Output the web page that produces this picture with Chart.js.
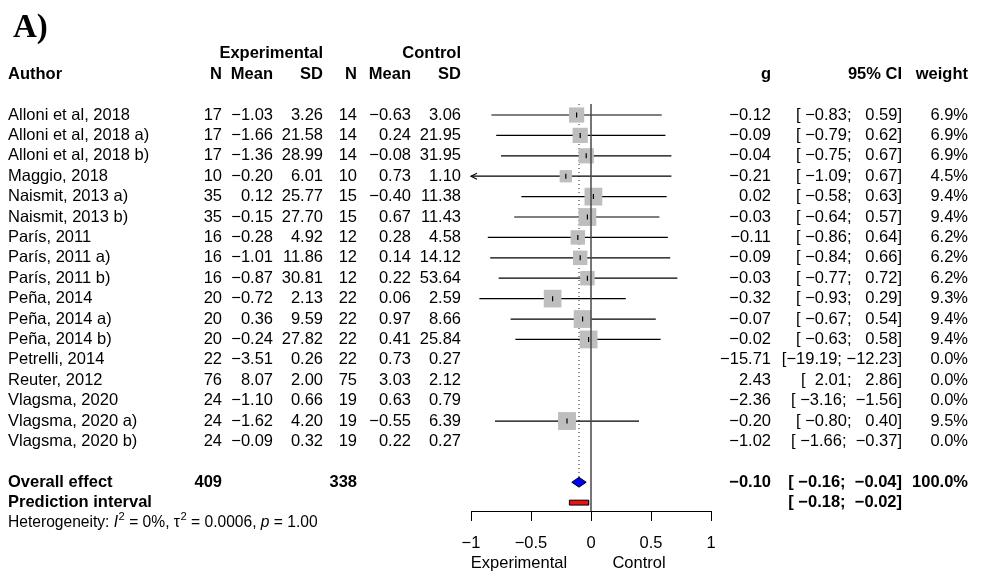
<!DOCTYPE html>
<html>
<head>
<meta charset="utf-8">
<script src="https://cdn.jsdelivr.net/npm/chart.js@4.4.1/dist/chart.umd.min.js"></script>
<style>
  html, body { margin: 0; padding: 0; background: #fff; }
  canvas { display: block; }
</style>
</head>
<body>
<canvas id="forest" width="983" height="575"></canvas>
<script>
// ---- study data ----
const authors = [
  'Alloni et al, 2018', 'Alloni et al, 2018 a)', 'Alloni et al, 2018 b)', 'Maggio, 2018',
  'Naismit, 2013 a)', 'Naismit, 2013 b)', 'París, 2011', 'París, 2011 a)', 'París, 2011 b)',
  'Peña, 2014', 'Peña, 2014 a)', 'Peña, 2014 b)', 'Petrelli, 2014', 'Reuter, 2012',
  'Vlagsma, 2020', 'Vlagsma, 2020 a)', 'Vlagsma, 2020 b)'
];
const nExp    = [17, 17, 17, 10, 35, 35, 16, 16, 16, 20, 20, 20, 22, 76, 24, 24, 24];
const meanExp = [-1.03, -1.66, -1.36, -0.20, 0.12, -0.15, -0.28, -1.01, -0.87, -0.72, 0.36, -0.24, -3.51, 8.07, -1.10, -1.62, -0.09];
const sdExp   = [3.26, 21.58, 28.99, 6.01, 25.77, 27.70, 4.92, 11.86, 30.81, 2.13, 9.59, 27.82, 0.26, 2.00, 0.66, 4.20, 0.32];
const nCtl    = [14, 14, 14, 10, 15, 15, 12, 12, 12, 22, 22, 22, 22, 75, 19, 19, 19];
const meanCtl = [-0.63, 0.24, -0.08, 0.73, -0.40, 0.67, 0.28, 0.14, 0.22, 0.06, 0.97, 0.41, 0.73, 3.03, 0.63, -0.55, 0.22];
const sdCtl   = [3.06, 21.95, 31.95, 1.10, 11.38, 11.43, 4.58, 14.12, 53.64, 2.59, 8.66, 25.84, 0.27, 2.12, 0.79, 6.39, 0.27];
const hedgesG = [-0.12, -0.09, -0.04, -0.21, 0.02, -0.03, -0.11, -0.09, -0.03, -0.32, -0.07, -0.02, -15.71, 2.43, -2.36, -0.20, -1.02];
const ciLow   = [-0.83, -0.79, -0.75, -1.09, -0.58, -0.64, -0.86, -0.84, -0.77, -0.93, -0.67, -0.63, -19.19, 2.01, -3.16, -0.80, -1.66];
const ciHigh  = [0.59, 0.62, 0.67, 0.67, 0.63, 0.57, 0.64, 0.66, 0.72, 0.29, 0.54, 0.58, -12.23, 2.86, -1.56, 0.40, -0.37];
const weight  = [6.9, 6.9, 6.9, 4.5, 9.4, 9.4, 6.2, 6.2, 6.2, 9.3, 9.4, 9.4, 0.0, 0.0, 0.0, 9.5, 0.0];

// ---- pooled results ----
const totalExp = 409;
const totalCtl = 338;
const pooledG = -0.10;
const pooledCI = [-0.16, -0.04];
const pooledWeight = 100.0;
const predInterval = [-0.18, -0.02];
const hetI2 = '0%';
const hetTau2 = '0.0006';
const hetP = '1.00';

// ---- axis ----
const xTicks = [-1, -0.5, 0, 0.5, 1];
const xTickLabels = ['\u22121', '\u22120.5', '0', '0.5', '1'];
const refValue = 0;

// ---- layout ----
const FONT = "'Liberation Sans', Arial, Helvetica, sans-serif";
const FS = 16.5;
const rowOverall = authors.length + 1;
const rowPred = rowOverall + 1;
const rowHet = rowPred + 1;
const yTop = -0.54, yBottom = 19.41;
const diamondHalf = 0.24;
const predHalf = 0.12;
const col = { author: 8, nE: 222, meanE: 273, sdE: 323, nC: 357, meanC: 411, sdC: 461, g: 771, ci: 902, w: 968 };

const minus = s => s.replace(/-/g, '\u2212');
const fmt2 = v => minus(v.toFixed(2));
const pad = (s, n) => ' '.repeat(Math.max(0, n - s.length)) + s;
const fmtCI = (lo, hi) => '[' + pad(fmt2(lo), 6) + '; ' + pad(fmt2(hi), 6) + ']';

// only studies that carry weight are drawn in the plot
const shown = authors.map((_, i) => i).filter(i => weight[i] > 0);

const ciLines = shown.map(i => ({
  type: 'line',
  data: [{ x: ciLow[i], y: i }, { x: ciHigh[i], y: i }],
  borderColor: '#000',
  borderWidth: 1.2,
  pointRadius: 0,
  order: 3,
}));

const squares = {
  type: 'line',
  showLine: false,
  data: shown.map(i => ({ x: hedgesG[i], y: i, w: weight[i] })),
  pointStyle: 'rect',
  pointRadius: ctx => 4.1 * Math.sqrt(ctx.raw ? ctx.raw.w : 0),
  pointBackgroundColor: '#bebebe',
  pointBorderWidth: 0,
  order: 2,
};

const estTicks = {
  type: 'line',
  showLine: false,
  data: shown.map(i => ({ x: hedgesG[i], y: i })),
  pointStyle: 'line',
  rotation: 90,
  pointRadius: 2.5,
  pointBorderColor: '#000',
  pointBorderWidth: 1.2,
  order: 0,
};

const refLine = {
  type: 'line',
  data: [{ x: refValue, y: yTop }, { x: refValue, y: yBottom }],
  borderColor: '#4a4a4a',
  borderWidth: 1.5,
  pointRadius: 0,
  order: 1,
};

const pooledLine = {
  type: 'line',
  data: [{ x: pooledG, y: yTop }, { x: pooledG, y: rowOverall - diamondHalf }],
  borderColor: '#222',
  borderWidth: 1,
  borderDash: [1, 3],
  pointRadius: 0,
  order: 4,
};

const diamond = {
  type: 'line',
  data: [
    { x: pooledCI[0], y: rowOverall }, { x: pooledG, y: rowOverall - diamondHalf },
    { x: pooledCI[1], y: rowOverall }, { x: pooledG, y: rowOverall + diamondHalf },
    { x: pooledCI[0], y: rowOverall }
  ],
  borderColor: '#000',
  borderWidth: 1,
  backgroundColor: '#0000ff',
  fill: 'shape',
  pointRadius: 0,
  order: 2,
};

const predBar = {
  type: 'line',
  data: [
    { x: predInterval[0], y: rowPred - predHalf }, { x: predInterval[1], y: rowPred - predHalf },
    { x: predInterval[1], y: rowPred + predHalf }, { x: predInterval[0], y: rowPred + predHalf },
    { x: predInterval[0], y: rowPred - predHalf }
  ],
  borderColor: '#000',
  borderWidth: 1,
  backgroundColor: '#ee1111',
  fill: 'shape',
  pointRadius: 0,
  order: 2,
};

// arrow heads for intervals running past the axis limits
const arrowPlugin = {
  id: 'ciArrows',
  afterDatasetsDraw(chart) {
    const { ctx, scales: { x, y } } = chart;
    ctx.save();
    ctx.strokeStyle = '#000';
    ctx.lineWidth = 1.1;
    shown.forEach(i => {
      const py = y.getPixelForValue(i);
      if (ciLow[i] < x.min) {
        const px = x.getPixelForValue(x.min);
        ctx.beginPath();
        ctx.moveTo(px + 6, py - 3);
        ctx.lineTo(px, py);
        ctx.lineTo(px + 6, py + 3);
        ctx.stroke();
      }
      if (ciHigh[i] > x.max) {
        const px = x.getPixelForValue(x.max);
        ctx.beginPath();
        ctx.moveTo(px - 6, py - 3);
        ctx.lineTo(px, py);
        ctx.lineTo(px - 6, py + 3);
        ctx.stroke();
      }
    });
    ctx.restore();
  }
};

// study table to the left and right of the plot
const tablePlugin = {
  id: 'forestTable',
  afterDraw(chart) {
    const { ctx, scales: { x, y } } = chart;
    const ry = r => y.getPixelForValue(r);
    const put = (s, px, py, align, bold) => {
      ctx.font = (bold ? 'bold ' : '') + FS + 'px ' + FONT;
      ctx.textAlign = align;
      ctx.fillText(s, px, py);
    };
    ctx.save();
    ctx.fillStyle = '#000';
    ctx.textBaseline = 'middle';

    // panel tag
    ctx.font = "bold 33px 'Liberation Serif', 'Times New Roman', serif";
    ctx.textAlign = 'left';
    ctx.fillText('A)', 13, 28);

    // headers
    put('Experimental', col.sdE, ry(-3), 'right', true);
    put('Control', col.sdC, ry(-3), 'right', true);
    const h = ry(-2);
    put('Author', col.author, h, 'left', true);
    put('N', col.nE, h, 'right', true);
    put('Mean', col.meanE, h, 'right', true);
    put('SD', col.sdE, h, 'right', true);
    put('N', col.nC, h, 'right', true);
    put('Mean', col.meanC, h, 'right', true);
    put('SD', col.sdC, h, 'right', true);
    put('g', col.g, h, 'right', true);
    put('95% CI', col.ci, h, 'right', true);
    put('weight', col.w, h, 'right', true);

    // study rows
    authors.forEach((a, i) => {
      const py = ry(i);
      put(a, col.author, py, 'left');
      put(String(nExp[i]), col.nE, py, 'right');
      put(fmt2(meanExp[i]), col.meanE, py, 'right');
      put(fmt2(sdExp[i]), col.sdE, py, 'right');
      put(String(nCtl[i]), col.nC, py, 'right');
      put(fmt2(meanCtl[i]), col.meanC, py, 'right');
      put(fmt2(sdCtl[i]), col.sdC, py, 'right');
      put(fmt2(hedgesG[i]), col.g, py, 'right');
      put(fmtCI(ciLow[i], ciHigh[i]), col.ci, py, 'right');
      put(weight[i].toFixed(1) + '%', col.w, py, 'right');
    });

    // pooled rows
    const po = ry(rowOverall);
    put('Overall effect', col.author, po, 'left', true);
    put(String(totalExp), col.nE, po, 'right', true);
    put(String(totalCtl), col.nC, po, 'right', true);
    put(fmt2(pooledG), col.g, po, 'right', true);
    put(fmtCI(pooledCI[0], pooledCI[1]), col.ci, po, 'right', true);
    put(pooledWeight.toFixed(1) + '%', col.w, po, 'right', true);
    const pp = ry(rowPred);
    put('Prediction interval', col.author, pp, 'left', true);
    put(fmtCI(predInterval[0], predInterval[1]), col.ci, pp, 'right', true);

    // heterogeneity line with italic symbols and superscripts
    const ph = ry(rowHet);
    const hs = 15.6;
    const parts = [
      ['Heterogeneity: ', ''], ['I', 'italic '], ['2', 'sup'], [' = ' + hetI2 + ', ', ''],
      ['\u03c4', ''], ['2', 'sup'], [' = ' + hetTau2 + ', ', ''], ['p', 'italic '], [' = ' + hetP, '']
    ];
    let px = col.author;
    ctx.textAlign = 'left';
    parts.forEach(([s, st]) => {
      if (st === 'sup') {
        ctx.font = (hs * 0.72) + 'px ' + FONT;
        ctx.fillText(s, px + 0.5, ph - 6);
      } else {
        ctx.font = st + hs + 'px ' + FONT;
        ctx.fillText(s, px, ph);
      }
      px += ctx.measureText(s).width + (st === 'sup' ? 0.5 : 0);
    });

    // side labels under the axis
    const pl = 563;
    put('Experimental', x.getPixelForValue(-0.6), pl, 'center');
    put('Control', x.getPixelForValue(0.4), pl, 'center');
    ctx.restore();
  }
};

new Chart(document.getElementById('forest'), {
  type: 'line',
  data: {
    datasets: [estTicks, refLine, squares, diamond, predBar, ...ciLines, pooledLine]
  },
  options: {
    responsive: false,
    animation: false,
    devicePixelRatio: 1,
    layout: { padding: { left: 471, right: 272, top: 104, bottom: 0 } },
    plugins: { legend: { display: false }, tooltip: { enabled: false } },
    elements: { line: { tension: 0 } },
    scales: {
      x: {
        type: 'linear',
        min: -1,
        max: 1,
        offset: false,
        afterBuildTicks: s => { s.ticks = xTicks.map(v => ({ value: v })); },
        afterFit: s => { s.height = 64; },
        grid: { drawOnChartArea: false, drawTicks: true, tickLength: 10, tickColor: '#000', tickWidth: 1 },
        border: { display: true, color: '#000', width: 1 },
        ticks: {
          color: '#000',
          font: { family: FONT, size: FS },
          padding: 13,
          maxRotation: 0,
          autoSkip: false,
          callback: (v, i) => xTickLabels[i],
        },
      },
      y: {
        type: 'linear',
        display: false,
        reverse: true,
        min: yTop,
        max: yBottom,
      },
    },
  },
  plugins: [arrowPlugin, tablePlugin],
});
</script>
</body>
</html>
